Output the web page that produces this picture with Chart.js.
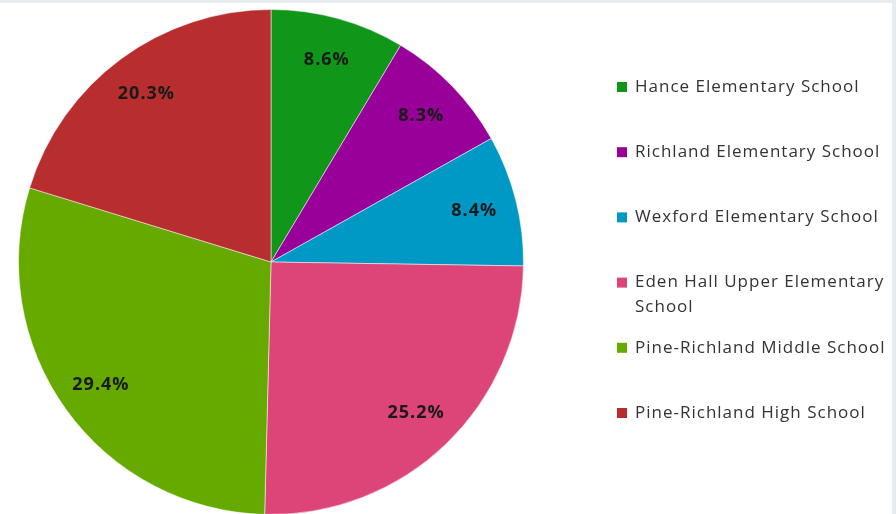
<!DOCTYPE html>
<html>
<head>
<meta charset="utf-8">
<script src="https://cdn.jsdelivr.net/npm/chart.js@4"></script>
<style>
  html, body { margin: 0; padding: 0; overflow: hidden; background: #e6ecef; }
  #wrap { position: absolute; left: 0; top: 3px; width: 892px; height: 520px; background: #fff; }
</style>
</head>
<body>
<div id="wrap"><canvas id="pie"></canvas></div>
<script>
const schools = [
  'Hance Elementary School',
  'Richland Elementary School',
  'Wexford Elementary School',
  'Eden Hall Upper Elementary School',
  'Pine-Richland Middle School',
  'Pine-Richland High School'
];
const shares = [8.6, 8.3, 8.4, 25.2, 29.4, 20.3];
const colors = ['#109618', '#990099', '#0099C6', '#DD4477', '#66AA00', '#B82E2E'];

const FONT = '"Open Sans", Lato, sans-serif';

// percent labels inside each slice
const sliceLabels = {
  id: 'sliceLabels',
  afterDatasetsDraw(chart) {
    const ctx = chart.ctx;
    const meta = chart.getDatasetMeta(0);
    ctx.save();
    ctx.font = 'bold 18px ' + FONT;
    ctx.letterSpacing = '1px';
    ctx.fillStyle = '#1a1a1a';
    ctx.textAlign = 'center';
    ctx.textBaseline = 'middle';
    meta.data.forEach((arc, i) => {
      const mid = (arc.startAngle + arc.endAngle) / 2;
      const r = arc.outerRadius * 0.83;
      const x = arc.x + Math.cos(mid) * r;
      const y = arc.y + Math.sin(mid) * r;
      ctx.fillText(shares[i].toFixed(1) + '%', x, y);
    });
    ctx.restore();
  }
};

// legend on the right, wraps long names
const sideLegend = {
  id: 'sideLegend',
  afterDraw(chart) {
    const ctx = chart.ctx;
    ctx.save();
    ctx.font = '17px ' + FONT;
    ctx.letterSpacing = '1px';
    ctx.textBaseline = 'middle';
    const boxX = 617, textX = 635, maxW = 262;
    let y = 84;
    schools.forEach((name, i) => {
      ctx.fillStyle = colors[i];
      ctx.fillRect(boxX, y - 5, 10, 10);
      ctx.fillStyle = '#333';
      // simple word wrap
      const words = name.split(' ');
      const lines = [];
      let line = '';
      words.forEach(w => {
        const test = line ? line + ' ' + w : w;
        if (ctx.measureText(test).width > maxW && line) { lines.push(line); line = w; }
        else line = test;
      });
      lines.push(line);
      lines.forEach((l, k) => ctx.fillText(l, textX, y + k * 25));
      y += 65.2;
    });
    ctx.restore();
  }
};

new Chart(document.getElementById('pie'), {
  type: 'pie',
  data: {
    labels: schools,
    datasets: [{
      data: shares,
      backgroundColor: colors,
      borderColor: 'rgba(255,255,255,0.5)',
      borderWidth: 1
    }]
  },
  options: {
    responsive: true,
    maintainAspectRatio: false,
    animation: false,
    layout: { padding: { left: 18, top: 6, right: 368, bottom: 8 } },
    plugins: {
      legend: { display: false },
      tooltip: { enabled: false }
    }
  },
  plugins: [sliceLabels, sideLegend]
});
</script>
</body>
</html>
